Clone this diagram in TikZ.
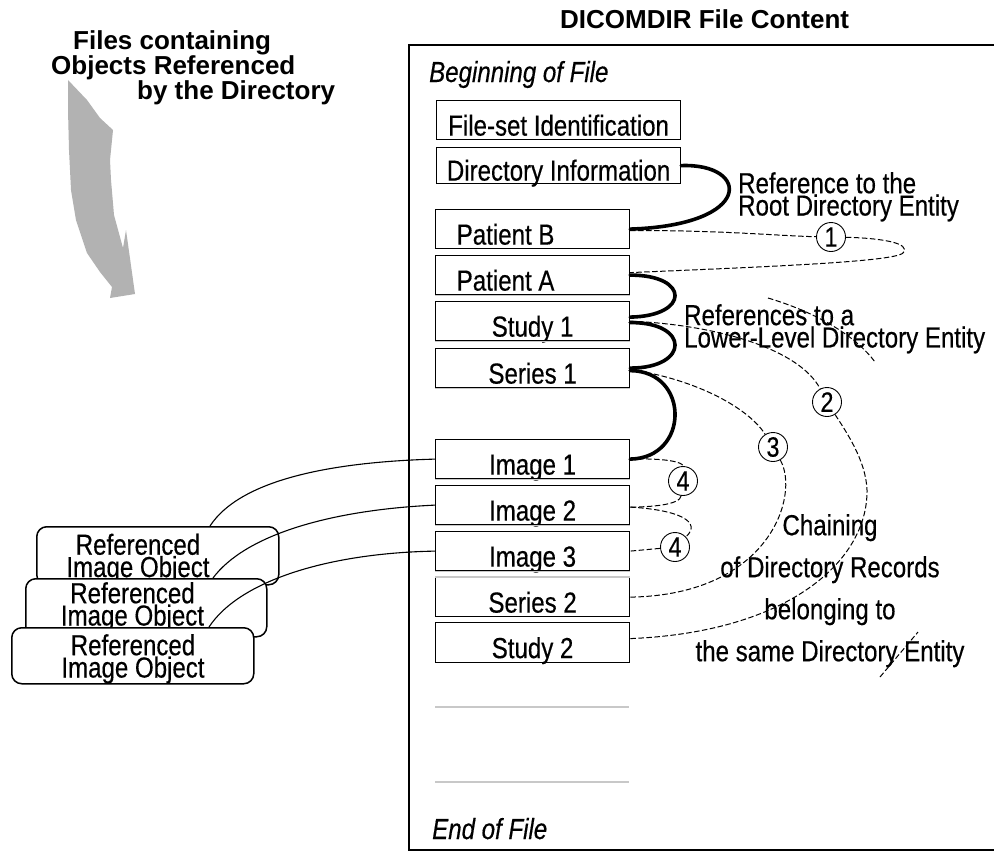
\documentclass[tikz,border=0pt]{standalone}
\usepackage{fontspec}
\setmainfont{Liberation Sans}
\newfontfamily\nrw[FakeStretch=0.83,FakeBold=0.4]{Liberation Sans}
\usetikzlibrary{calc}
\newcommand\nf{\nrw\fontsize{29pt}{20pt}\selectfont}
\newcommand\nfwide{\nrw\fontsize{29pt}{42pt}\selectfont}
\newcommand\bfx{\bfseries\fontsize{26pt}{24pt}\selectfont}
\definecolor{arrowgray}{HTML}{B2B2B2}
\definecolor{edgegray}{HTML}{C8C8C8}
\begin{document}
\begin{tikzpicture}[x=1pt,y=-1pt,
  recbox/.style={draw, line width=1.2pt, minimum width=194pt, minimum height=39pt, inner sep=0pt, text height=31pt, text depth=0pt, font=\nf, anchor=north west},
  heavy/.style={line width=3.6pt, line cap=round},
  dsh/.style={line width=1pt, dash pattern=on 5.5pt off 2.5pt},
  numc/.style={circle, draw, line width=0.9pt, fill=white, minimum size=29pt, inner sep=0pt, font=\nrw\fontsize{28pt}{28pt}\selectfont},
  refbox/.style={draw, line width=1.5pt, rounded corners=10pt, fill=white, inner sep=0pt, anchor=north west},
  reftext/.style={font=\nf, inner sep=0pt, align=center, anchor=north},
  lbl/.style={font=\nf, inner sep=0pt, align=left, anchor=north west},
  lightedge/.style={edgegray, line width=1.4pt},
  refline/.style={line width=1.1pt}
]
\useasboundingbox (0,0) rectangle (994,852);
\fill[white] (0,0) rectangle (994,852);

% grey curved arrow
\fill[arrowgray] (68,80) -- (68,110) -- (69,150) -- (71,190) -- (76,220) -- (87,253) -- (100,272) -- (112,287) -- (110,298) -- (135,294) -- (126,230) -- (123,248) -- (114,215) -- (111,180) -- (110,160) -- (113,130) -- (100,118) -- (87,100) -- cycle;

\node[font=\bfx, inner sep=0pt, align=left, anchor=north west] (files) at (51,30)
  {\hspace*{22pt}Files containing\\Objects Referenced\\\hspace*{86pt}by the Directory};

\node[font=\bfx, inner sep=0pt, anchor=base west] (title) at (560,28) {DICOMDIR File Content};

% file frame (its right side lies beyond the picture)
\coordinate (ftr) at (996,45); \coordinate (ftl) at (409,45);
\coordinate (fbl) at (409,850); \coordinate (fbr) at (996,850);
\draw[line width=1.5pt] (ftr) -- (ftl) -- (fbl) -- (fbr);
\node[font=\nf\itshape, inner sep=0pt, anchor=base west] (bof) at (429,82) {Beginning of File};
\node[font=\nf\itshape, inner sep=0pt, anchor=base west] (eof) at (432,839) {End of File};

% records
\node[recbox, minimum width=244pt] (fs) at (436,100) {File-set Identification};
\node[recbox, minimum width=244pt, minimum height=36pt, text height=30pt] (di) at (436,147) {Directory Information};
\node[recbox] (pb) at (435,209) {Patient B\hspace*{54pt}};
\node[recbox] (pa) at (435,255) {Patient A\hspace*{54pt}};
\node[recbox] (s1) at (435,301) {Study 1};
\node[recbox] (se1) at (435,348) {Series 1};
\node[recbox] (i1) at (435,439) {Image 1};
\node[recbox] (i2) at (435,485) {Image 2};
\node[recbox] (i3) at (435,531) {Image 3};
\node[recbox] (se2) at (435,577) {Series 2};
\node[recbox, minimum height=40pt] (st2) at (435,622) {Study 2};

\foreach \n in {pa,s1,se1,i1,i2,i3}{\draw[lightedge] (\n.south west) -- (\n.south east);}
\draw[lightedge] (se2.north west) -- (se2.north east);

\coordinate (g1a) at (435,707); \coordinate (g1b) at (629,707);
\coordinate (g2a) at (435,782); \coordinate (g2b) at (629,782);
\draw[edgegray, line width=1.2pt] (g1a) -- (g1b);
\draw[edgegray, line width=1.2pt] (g2a) -- (g2b);

% labels
\node[lbl] (lroot) at (738,172) {Reference to the\\Root Directory Entity};
\node[lbl] (llow) at (684,304) {References to a\\Lower-Level Directory Entity};
\node[font=\nfwide, inner sep=0pt, align=center, anchor=north] (lchain) at (830,514)
  {Chaining\\of Directory Records\\belonging to\\the same Directory Entity};

% numbered circles
\node[numc] (c1) at (831,237) {1};
\node[numc] (c2) at (827,402) {2};
\node[numc] (c3) at (773,447) {3};
\node[numc] (c4a) at (683,481) {4};
\node[numc] (c4b) at (675,547) {4};

% heavy references
\draw[heavy] (di.east) .. controls (750,163) and (755,225) .. (pb.east);
\draw[heavy] (pa.east) .. controls (690,275) and (690,316) .. ([yshift=4pt]s1.east);
\draw[heavy] ([yshift=-1.5pt]s1.east) .. controls (690,322) and (690,368) .. (se1.east);
\draw[heavy] ([yshift=-2.5pt]se1.east) .. controls (690,371) and (690,458) .. (i1.east);

% dashed chaining
\coordinate (tip1) at (903,253);
\draw[dsh] ([yshift=-1.5pt]pb.east) .. controls (720,230) and (780,236) .. (c1)
  .. controls (880,238) and (912,243) .. (tip1)
  .. controls (894,262) and (760,267) .. ([yshift=2.5pt]pa.east);
\coordinate (w2) at (867,490);
\draw[dsh] (s1.east) .. controls (720,325) and (800,350) .. (c2)
  .. controls (845,430) and (866,460) .. (w2)
  .. controls (868,560) and (790,632) .. ([yshift=4pt]st2.east);
\draw[dsh] ([yshift=-1.5pt]se1.east) .. controls (700,380) and (750,410) .. (c3)
  .. controls (800,495) and (770,595) .. (se2.east);
\draw[dsh] (i1.east) .. controls (665,458) and (683,462) .. (c4a)
  .. controls (680,505) and (650,507) .. ([yshift=-2pt]i2.east);
\draw[dsh] ([yshift=-2pt]i2.east) .. controls (680,510) and (702,522) .. (c4b) -- (i3.east);

% stray strokes
\coordinate (sa1) at (768,298); \coordinate (sa2) at (875,362);
\draw[dsh] (sa1) .. controls (815,312) and (855,335) .. (sa2);
\coordinate (sb1) at (880,677); \coordinate (sb2) at (918,632);
\draw[dsh] (sb1) -- (sb2);

% referenced image objects
\node[refbox, minimum width=242pt, minimum height=58pt] (refA) at (36,526) {};
\node[reftext] (refAt) at (138,533.5) {Referenced\\Image Object};
\node[refbox, minimum width=241pt, minimum height=58pt] (refB) at (25,578) {};
\node[reftext] (refBt) at (132.5,582) {Referenced\\Image Object};
\node[refbox, minimum width=242pt, minimum height=56pt] (refC) at (11,627) {};
\node[reftext] (refCt) at (133,634) {Referenced\\Image Object};

\draw[refline] (i1.west) .. controls (330,462) and (240,480) .. ($(refA.north west)+(174,0)$);
\draw[refline] (i2.west) .. controls (330,510) and (245,535) .. ($(refB.north west)+(188,0)$);
\draw[refline] (i3.west) .. controls (330,553) and (240,580) .. ($(refC.north west)+(198,0)$);
\end{tikzpicture}
\end{document}
